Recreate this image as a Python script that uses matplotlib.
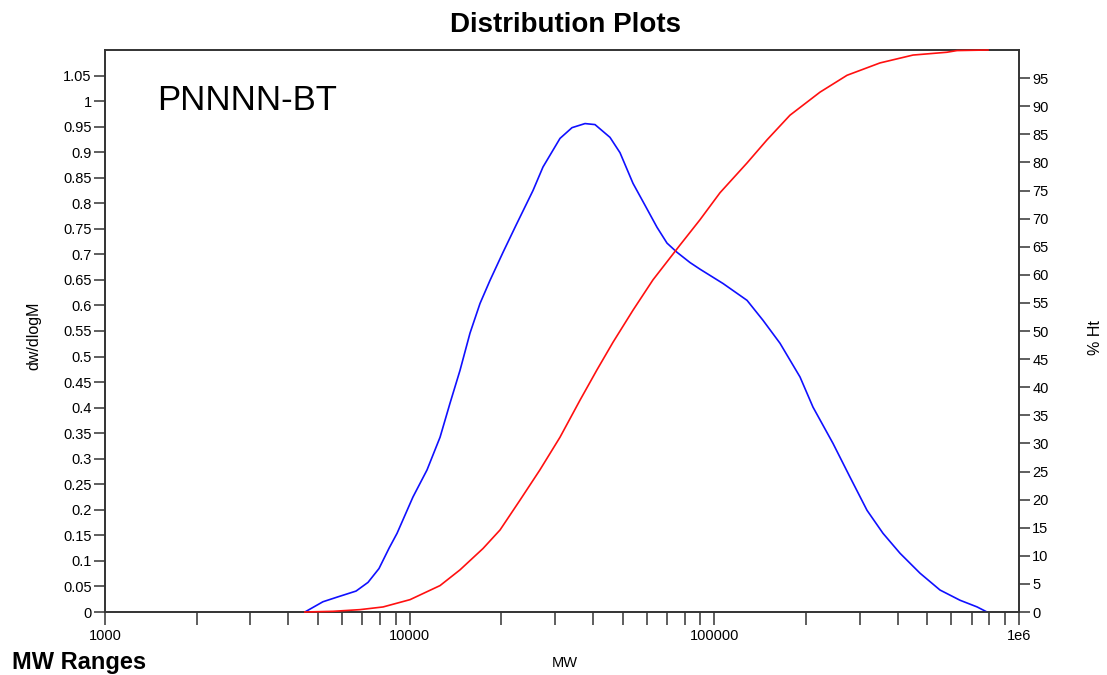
import matplotlib
matplotlib.use('Agg')
import matplotlib.pyplot as plt
from matplotlib.ticker import FixedLocator, FixedFormatter, LogLocator, NullFormatter
import numpy as np

plt.rcParams['font.family'] = ['Liberation Sans', 'DejaVu Sans']

# ================== data ==================
# dw/dlogM curve
mw_dw = [4530, 5190, 5770, 6670, 7300, 7930, 8560, 9090, 10250, 11400,
         12580, 13570, 14630, 15780, 17020, 18350, 20250, 22340, 25400, 27390,
         31150, 34110, 37630, 40580, 45450, 49020, 54080, 59230, 64840, 69930,
         75430, 83200, 89740, 106760, 128040, 144440, 164260, 191090, 210780, 245180,
         278830, 317070, 357770, 406840, 473150, 550470, 640300, 728100, 785200]
dw = [0, 0.020, 0.029, 0.041, 0.058, 0.085, 0.125, 0.154, 0.225, 0.278,
      0.342, 0.409, 0.473, 0.546, 0.604, 0.649, 0.704, 0.757, 0.825, 0.871,
      0.927, 0.948, 0.956, 0.954, 0.929, 0.899, 0.839, 0.796, 0.753, 0.722,
      0.704, 0.684, 0.671, 0.643, 0.610, 0.571, 0.526, 0.460, 0.401, 0.330,
      0.264, 0.199, 0.154, 0.115, 0.076, 0.043, 0.023, 0.010, 0]

# cumulative % curve
mw_cum = [4530, 5600, 6870, 8180, 10030, 12580, 14630, 17410, 19800, 23020,
          26770, 31150, 36240, 41200, 46500, 54080, 62890, 77160, 89740, 104370,
          128040, 148850, 177140, 222260, 272580, 349780, 448840, 580150, 625900, 791200]
cum = [0, 0.12, 0.42, 0.9, 2.2, 4.7, 7.5, 11.3, 14.6, 19.9,
       25.3, 31.1, 37.7, 43.1, 48.0, 53.7, 59.1, 65.3, 69.8, 74.6,
       79.9, 84.0, 88.4, 92.5, 95.5, 97.7, 99.1, 99.6, 99.9, 100]

x_ticks = [1000, 10000, 100000, 1000000]
x_tick_labels = ['1000', '10000', '100000', '1e6']
left_ticks = np.round(np.arange(0, 1.051, 0.05), 2)
right_ticks = list(range(0, 96, 5))

# ================== figure ==================
W, H = 1107, 675
fig = plt.figure(figsize=(W / 100, H / 100), dpi=100)
ax = fig.add_axes([105 / W, 63 / H, 914 / W, 562 / H])
ax2 = ax.twinx()

SPINE = '#333333'

ax.plot(mw_dw, dw, color='#1010ff', lw=1.2, zorder=3)
ax2.plot(mw_cum, cum, color='#ff1010', lw=1.2, zorder=3, clip_on=False)

ax.set_xscale('log')
ax.set_xlim(1000, 1e6)
ax.set_ylim(0, 1.1)
ax2.set_ylim(0, 100)

ax.xaxis.set_major_locator(FixedLocator(x_ticks))
ax.xaxis.set_major_formatter(FixedFormatter(x_tick_labels))
ax.xaxis.set_minor_locator(LogLocator(base=10, subs=range(2, 10)))
ax.xaxis.set_minor_formatter(NullFormatter())

ax.set_yticks(left_ticks)
ax.set_yticklabels([f"{v:g}" for v in left_ticks])
ax2.set_yticks(right_ticks)
ax2.set_yticklabels([str(v) for v in right_ticks])

ax.tick_params(axis='x', which='both', direction='out', length=9.5, width=1.1,
               pad=3, labelsize=10.5, color=SPINE)
ax.tick_params(axis='y', direction='out', length=8, width=1.1, pad=1.5,
               labelsize=10.5, color=SPINE)
ax2.tick_params(axis='y', direction='out', length=8, width=1.1, pad=1.5,
                labelsize=10.5, color=SPINE)

for a in (ax, ax2):
    for s in a.spines.values():
        s.set_linewidth(1.2)
        s.set_color(SPINE)

# ================== texts ==================
ax.set_ylabel('dw/dlogM', fontsize=11.5, va='center', ha='center')
ax.yaxis.set_label_coords((34 - 105) / 914, (612 - 336) / 562)
ax2.set_ylabel('% Ht', fontsize=11.5, rotation=90, va='center', ha='center')
ax2.yaxis.set_label_coords((1096 - 105) / 914, (612 - 338) / 562)
ax.set_xlabel('MW', fontsize=10.5, va='center', ha='center')
ax.xaxis.set_label_coords((565 - 105) / 914, (612 - 663) / 562)

ax.text((157 - 105) / 914, (612 - 100) / 562, 'PNNNN-BT', transform=ax.transAxes,
        fontsize=25, ha='left', va='center')

fig.text(565 / W, 1 - 25 / H, 'Distribution Plots', fontsize=20,
         fontweight='bold', ha='center', va='center')
fig.text(12 / W, 1 - 662 / H, 'MW Ranges', fontsize=17, fontweight='bold',
         ha='left', va='center')

fig.savefig('out.png', dpi=100, facecolor='white')
